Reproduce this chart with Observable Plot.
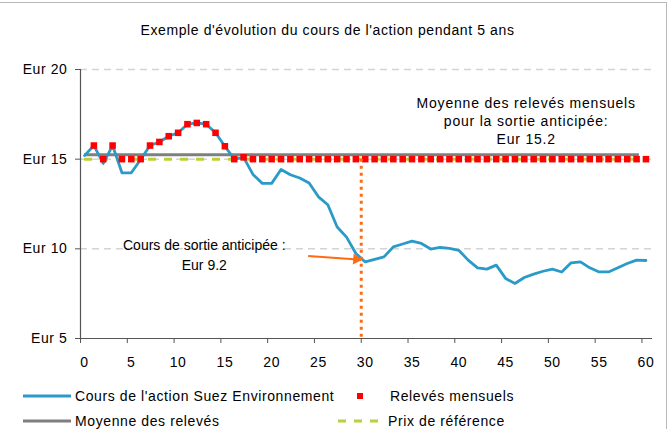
<!DOCTYPE html>
<html><head><meta charset="utf-8">
<script src="https://cdn.jsdelivr.net/npm/d3@7"></script>
<script src="https://cdn.jsdelivr.net/npm/@observablehq/plot@0.6"></script>
<style>
body{margin:0;background:#fff;font-family:"Liberation Sans",Arial,sans-serif;}
#wrap{position:relative;width:671px;height:429px;overflow:hidden;background:#fff;}
#border{position:absolute;left:-2px;top:2px;width:669px;height:440px;border:1px solid #b8b8b8;box-sizing:border-box;}
#chart{position:absolute;left:0;top:0;}
.leg{position:absolute;font-size:14px;letter-spacing:0.6px;color:#000;white-space:nowrap;line-height:16px;}
.sw{position:absolute;}
</style></head><body>
<div id="wrap"><div id="border"></div><div id="chart"></div><div id="legend"></div></div>
<script>
// ---- data ----
const title = "Exemple d'évolution du cours de l'action pendant 5 ans";
const prices = [15.2, 15.76, 14.76, 15.76, 14.24, 14.24, 14.98, 15.76, 15.96, 16.28,
  16.47, 16.95, 17.02, 16.95, 16.47, 15.72, 15.0, 15.1, 14.15, 13.65,
  13.65, 14.42, 14.13, 13.95, 13.67, 12.9, 12.46, 11.22, 10.65, 9.74,
  9.27, 9.41, 9.55, 10.11, 10.27, 10.43, 10.3, 9.99, 10.08, 10.02,
  9.92, 9.37, 8.94, 8.87, 9.09, 8.35, 8.07, 8.4, 8.59, 8.75,
  8.87, 8.71, 9.22, 9.27, 8.94, 8.71, 8.71, 8.94, 9.18, 9.37, 9.35];
// monthly readings, months 1..60 (floored at the reference price)
const releves = [15.76, 15.0, 15.76, 15.0, 15.0, 15.0, 15.76, 15.96, 16.28, 16.47,
  16.95, 17.02, 16.95, 16.47, 15.72, 15.0, 15.1, 15, 15, 15,
  15, 15, 15, 15, 15, 15, 15, 15, 15, 15,
  15, 15, 15, 15, 15, 15, 15, 15, 15, 15,
  15, 15, 15, 15, 15, 15, 15, 15, 15, 15,
  15, 15, 15, 15, 15, 15, 15, 15, 15, 15];
const averageLine = [{x1: 0, x2: 59.3, y: 15.24}];
const referenceLine = [{x1: 0, x2: 59, y: 15}];
const exitLine = [{x: 30, y1: 15, y2: 5}];
const exitArrow = [{x1: 23.9, y1: 9.6, x2: 29.55, y2: 9.39}];
const arrowHead = [{x: 29.05, y: 9.41}];
const noteAverage = [{x: 47.2, y: 17.17, text: "Moyenne des relevés mensuels\npour la sortie anticipée:\nEur 15.2"}];
const noteExit = [{x: 12.8, y: 9.74, text: "Cours de sortie anticipée :\nEur 9.2"}];
const xTicks = [0, 5, 10, 15, 20, 25, 30, 35, 40, 45, 50, 55, 60];
const yTicks = [5, 10, 15, 20];
const gridValues = [10, 15, 20];
const xDomain = [-0.43, 60.7];
const yDomain = [5, 20];
const legendLabels = ["Cours de l'action Suez Environnement", "Relevés mensuels", "Moyenne des relevés", "Prix de référence"];

const C = {blue: "#2a9bc9", red: "#ff0000", gray: "#7f7f7f", green: "#bccf3a", orange: "#ff6a13", grid: "#d4d4d4", axis: "#555"};

const priceData = prices.map((p, i) => ({m: i, p}));
const releveData = releves.map((v, i) => ({m: i + 1, v}));

const chart = Plot.plot({
  width: 671, height: 375,
  marginLeft: 80, marginRight: 19, marginTop: 69, marginBottom: 37,
  style: {fontFamily: "Liberation Sans, Arial, sans-serif", fontSize: "14px", letterSpacing: "0.6px", color: "#000", background: "transparent"},
  x: {domain: xDomain, axis: null},
  y: {domain: yDomain, axis: null},
  marks: [
    Plot.ruleY(gridValues, {stroke: C.grid, strokeWidth: 1.5, strokeDasharray: "7,5"}),
    Plot.ruleX([xDomain[0]], {stroke: C.axis, strokeWidth: 1.2}),
    Plot.ruleY([yDomain[0]], {stroke: C.axis, strokeWidth: 1.2}),
    Plot.axisY(yTicks, {tickSize: 5, tickFormat: () => "", stroke: C.axis}),
    Plot.text(yTicks, {y: d => d, frameAnchor: "left", dx: -13, textAnchor: "end", lineAnchor: "middle", text: d => "Eur " + d, fontSize: 14, fill: "#000"}),
    Plot.axisX(xTicks, {tickSize: 5, tickFormat: () => "", dx: -4, stroke: C.axis}),
    Plot.text(xTicks, {x: d => d, frameAnchor: "bottom", dy: 24, lineAnchor: "middle", text: d => String(d), fontSize: 14, fill: "#000"}),
    Plot.ruleY(referenceLine, {x1: "x1", x2: "x2", y: "y", stroke: C.green, strokeWidth: 3, strokeDasharray: "8,8"}),
    Plot.ruleY(averageLine, {x1: "x1", x2: "x2", y: "y", stroke: C.gray, strokeWidth: 3}),
    Plot.line(priceData, {x: "m", y: "p", stroke: C.blue, strokeWidth: 2.8}),
    Plot.dot(releveData, {x: "m", y: "v", symbol: "square", fill: C.red, r: 3.7}),
    Plot.ruleX(exitLine, {x: "x", y1: "y1", y2: "y2", dx: -4, stroke: C.orange, strokeWidth: 3, strokeDasharray: "3,4"}),
    Plot.link(exitArrow, {x1: "x1", y1: "y1", x2: "x2", y2: "y2", stroke: C.orange, strokeWidth: 2}),
    Plot.dot(arrowHead, {x: "x", y: "y", symbol: "triangle", rotate: 94, r: 4, fill: C.orange}),
    Plot.text(noteAverage, {x: "x", y: "y", text: "text", fontSize: 14, lineHeight: 1.31, fill: "#000"}),
    Plot.text(noteExit, {x: "x", y: "y", text: "text", fontSize: 14, lineHeight: 1.42, fill: "#000"}),
    Plot.text([title], {frameAnchor: "top", dy: -39, dx: -39, lineAnchor: "middle", fontSize: 14, fill: "#000"})
  ]
});
// per-annotation letter spacing to match the reference text widths
d3.select(chart).selectAll("text").each(function () {
  const t = this.textContent;
  if (t.startsWith("Cours de sortie")) this.style.letterSpacing = "0px";
  if (t.startsWith("Moyenne des relev")) this.style.letterSpacing = "0.8px";
});
document.getElementById("chart").appendChild(chart);

// ---- legend ----
const leg = document.getElementById("legend");
const items = [
  {label: legendLabels[0], left: 75, cy: 396, sw: `<svg class="sw" style="left:22px;top:390px" width="50" height="12"><line x1="1" x2="49" y1="6" y2="6" stroke="${C.blue}" stroke-width="3"/></svg>`},
  {label: legendLabels[1], left: 390, cy: 396, sw: `<svg class="sw" style="left:354px;top:390px" width="12" height="12"><rect x="3" y="3" width="6" height="6" fill="${C.red}"/></svg>`},
  {label: legendLabels[2], left: 75, cy: 421, sw: `<svg class="sw" style="left:22px;top:415px" width="50" height="12"><line x1="1" x2="49" y1="6" y2="6" stroke="${C.gray}" stroke-width="3"/></svg>`},
  {label: legendLabels[3], left: 388, cy: 421, sw: `<svg class="sw" style="left:337px;top:415px" width="50" height="12"><line x1="1" x2="49" y1="6" y2="6" stroke="${C.green}" stroke-width="3" stroke-dasharray="8,8"/></svg>`}
];
leg.innerHTML = items.map(d => d.sw + `<div class="leg" style="left:${d.left}px;top:${d.cy - 8}px">${d.label}</div>`).join("");
</script>
</body></html>
